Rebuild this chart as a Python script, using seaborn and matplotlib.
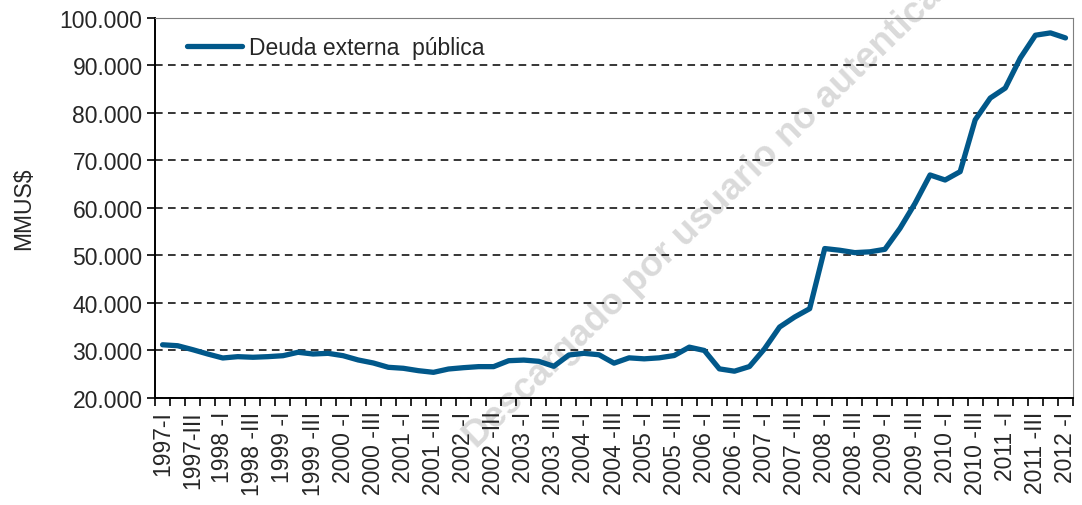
import matplotlib
matplotlib.use("Agg")
import matplotlib.pyplot as plt
import matplotlib.ticker as mticker
import numpy as np
import pandas as pd
import seaborn as sns

# Quarterly public external debt, millions of US$
years = list(range(1997, 2013))
quarters = ["I", "II", "III", "IV"]
periods = [f"{y}-{q}" for y in years for q in quarters][:61]

deuda = [
    31200, 31000, 30170, 29260, 28420, 28700, 28570, 28700,
    28900, 29620, 29260, 29400, 28900, 28000, 27370, 26460,
    26250, 25750, 25400, 26100, 26380, 26600, 26600, 27850,
    27980, 27720, 26670, 29050, 29400, 29100, 27330, 28450,
    28240, 28450, 28940, 30700, 30000, 26130, 25640, 26620,
    30350, 34930, 37040, 38800, 51460, 51100, 50600, 50770,
    51300, 55700, 60960, 66950, 65890, 67650, 78560, 83140,
    85250, 91580, 96370, 96860, 95800,
]

# Every second quarter carries a label
tick_labels = ["1997-I", "1997-III"] + [
    f"{y} -{q}" for y in range(1998, 2013) for q in ("I", "III")
][:29]

y_ticks = list(range(20000, 100001, 10000))

df = pd.DataFrame({"pos": np.arange(len(deuda)), "periodo": periods, "deuda": deuda})

sns.set_theme(style="white")
plt.rcParams["font.family"] = ["Liberation Sans", "DejaVu Sans"]

FS = 16.5

fig = plt.figure(figsize=(10.82, 5.06), dpi=100)
ax = fig.add_axes([0.1433, 0.2115, 0.8484, 0.751])
ax.set_facecolor("none")

fig.text(0.6654, 0.6028, "Descargado por usuario no autenticado", rotation=44,
         rotation_mode="anchor", ha="center", va="center", fontsize=26.5,
         fontweight="bold", color="#dadada", zorder=-1)

sns.lineplot(data=df, x="pos", y="deuda", ax=ax, color="#01588A", linewidth=3.8,
             label="Deuda externa  pública", solid_joinstyle="round",
             solid_capstyle="round", zorder=5)

ax.set_xlim(-0.5, len(deuda) - 0.5)
ax.set_ylim(20000, 100000)
ax.set_yticks(y_ticks)
ax.yaxis.set_major_formatter(mticker.FuncFormatter(lambda v, p: f"{v:,.0f}".replace(",", ".")))

ax.set_xticks(np.arange(0, len(deuda), 2))
ax.set_xticklabels(tick_labels, rotation=90, fontsize=FS)
ax.set_xticks(np.arange(-0.5, len(deuda), 1), minor=True)
ax.tick_params(axis="x", which="major", length=0, pad=9)
ax.tick_params(axis="x", which="minor", length=6, width=1.2, color="black", direction="out", bottom=True)
ax.tick_params(axis="y", which="major", length=6, width=1.2, color="black", direction="out",
               left=True, labelsize=FS, pad=3)

ax.yaxis.grid(True, linestyle=(0, (5, 3.5)), color="black", linewidth=1.1)
ax.xaxis.grid(False)

for side in ("left", "bottom"):
    ax.spines[side].set_color("black")
    ax.spines[side].set_linewidth(1.4)
for side in ("top", "right"):
    ax.spines[side].set_color("#7f7f7f")
    ax.spines[side].set_linewidth(0.8)

ax.set_xlabel("")
ax.set_ylabel("MMUS$", fontsize=FS, labelpad=18)

leg = ax.legend(loc="upper left", bbox_to_anchor=(0.02, 0.99), frameon=False,
                fontsize=FS, handlelength=2.4, handletextpad=0.3, borderaxespad=0.2)

fig.savefig("out.png", dpi=100)
